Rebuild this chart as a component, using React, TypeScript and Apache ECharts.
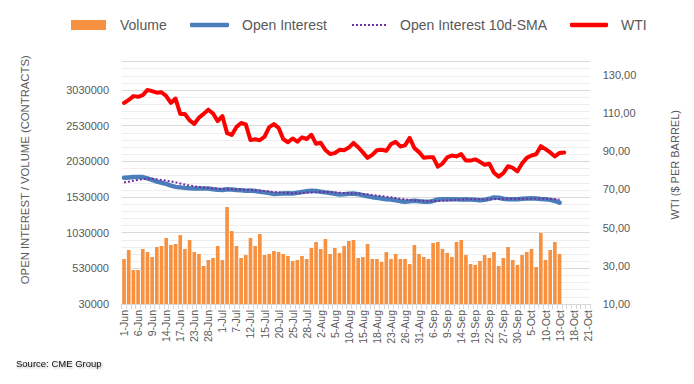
import React, { useEffect, useRef } from "react";
import * as echarts from "echarts";

const categories = [
  "1-Jun","2-Jun","3-Jun","6-Jun","7-Jun","8-Jun","9-Jun","10-Jun","13-Jun","14-Jun","15-Jun","16-Jun","17-Jun","21-Jun","22-Jun","23-Jun","24-Jun","27-Jun","28-Jun","29-Jun","30-Jun",
  "1-Jul","5-Jul","6-Jul","7-Jul","8-Jul","11-Jul","12-Jul","13-Jul","14-Jul","15-Jul","18-Jul","19-Jul","20-Jul","21-Jul","22-Jul","25-Jul","26-Jul","27-Jul","28-Jul","29-Jul",
  "1-Aug","2-Aug","3-Aug","4-Aug","5-Aug","8-Aug","9-Aug","10-Aug","11-Aug","12-Aug","15-Aug","16-Aug","17-Aug","18-Aug","19-Aug","22-Aug","23-Aug","24-Aug","25-Aug","26-Aug","29-Aug","30-Aug","31-Aug",
  "1-Sep","2-Sep","6-Sep","7-Sep","8-Sep","9-Sep","12-Sep","13-Sep","14-Sep","15-Sep","16-Sep","19-Sep","20-Sep","21-Sep","22-Sep","23-Sep","26-Sep","27-Sep","28-Sep","29-Sep","30-Sep",
  "3-Oct","4-Oct","5-Oct","6-Oct","7-Oct","10-Oct","11-Oct","12-Oct","13-Oct","14-Oct","17-Oct","18-Oct","19-Oct","20-Oct","21-Oct",
];

const volume = [
  660000, 787000, 507000, 507000, 801000, 759000, 689000, 829000, 843000, 955000,
  857000, 871000, 997000, 801000, 927000, 759000, 731000, 563000, 647000, 675000,
  843000, 647000, 1390000, 1053000, 843000, 675000, 717000, 955000, 843000, 1011000,
  717000, 731000, 773000, 759000, 731000, 703000, 633000, 647000, 703000, 661000,
  815000, 899000, 801000, 941000, 731000, 815000, 745000, 843000, 913000, 927000,
  675000, 689000, 871000, 661000, 661000, 619000, 759000, 661000, 731000, 661000,
  661000, 591000, 857000, 731000, 689000, 661000, 885000, 899000, 801000, 745000,
  689000, 899000, 927000, 717000, 591000, 577000, 633000, 717000, 675000, 759000,
  563000, 675000, 829000, 647000, 577000, 717000, 759000, 801000, 549000, 1025000,
  647000, 787000, 899000, 731000,
];

const openInterest = [
  1800000, 1805000, 1810000, 1812000, 1810000, 1790000, 1770000, 1745000, 1730000, 1715000,
  1690000, 1672000, 1665000, 1658000, 1652000, 1650000, 1648000, 1650000, 1648000, 1640000,
  1632000, 1628000, 1640000, 1636000, 1628000, 1625000, 1618000, 1620000, 1615000, 1605000,
  1595000, 1585000, 1572000, 1575000, 1580000, 1582000, 1580000, 1590000, 1600000, 1610000,
  1618000, 1615000, 1605000, 1595000, 1585000, 1575000, 1565000, 1568000, 1575000, 1580000,
  1570000, 1555000, 1540000, 1528000, 1520000, 1510000, 1500000, 1495000, 1485000, 1472000,
  1465000, 1470000, 1478000, 1470000, 1465000, 1462000, 1475000, 1495000, 1500000, 1498000,
  1498000, 1498000, 1496000, 1498000, 1495000, 1490000, 1486000, 1492000, 1505000, 1525000,
  1520000, 1505000, 1498000, 1498000, 1500000, 1505000, 1510000, 1512000, 1508000, 1502000,
  1498000, 1490000, 1475000, 1450000,
];

const openInterestSma = [
  1735000, 1745000, 1758000, 1770000, 1782000, 1785000, 1785000, 1778000, 1770000, 1760000,
  1748000, 1735000, 1720000, 1705000, 1692000, 1680000, 1670000, 1662000, 1656000, 1650000,
  1646000, 1642000, 1640000, 1638000, 1636000, 1634000, 1630000, 1627000, 1624000, 1620000,
  1615000, 1608000, 1600000, 1594000, 1590000, 1586000, 1583000, 1583000, 1585000, 1590000,
  1594000, 1598000, 1600000, 1600000, 1598000, 1594000, 1590000, 1586000, 1582000, 1580000,
  1578000, 1574000, 1568000, 1560000, 1552000, 1544000, 1535000, 1526000, 1516000, 1506000,
  1497000, 1490000, 1484000, 1480000, 1476000, 1472000, 1472000, 1474000, 1478000, 1482000,
  1486000, 1490000, 1494000, 1496000, 1498000, 1498000, 1497000, 1496000, 1497000, 1500000,
  1503000, 1504000, 1504000, 1504000, 1504000, 1505000, 1505000, 1506000, 1508000, 1508000,
  1507000, 1504000, 1500000, 1494000,
];

const wti = [
  115.26, 116.87, 118.87, 118.5, 119.41, 122.11, 121.51, 120.67, 120.93, 118.93,
  115.31, 117.59, 109.56, 109.52, 106.19, 104.27, 107.62, 109.57, 111.76, 109.78,
  105.76, 108.43, 99.5, 98.53, 102.73, 104.79, 104.09, 95.84, 96.3, 95.78,
  97.59, 102.6, 104.22, 102.26, 96.35, 94.7, 96.7, 94.98, 97.26, 96.42,
  98.62, 93.89, 94.42, 90.66, 88.54, 89.01, 90.76, 90.5, 91.93, 94.34,
  92.09, 89.41, 86.53, 88.11, 90.5, 90.77, 90.23, 93.74, 94.89, 92.52,
  93.06, 97.01, 91.64, 89.55, 86.61, 86.87, 86.88, 81.94, 83.54, 86.79,
  87.78, 87.31, 88.48, 85.1, 85.11, 85.73, 84.45, 82.94, 83.49, 78.74,
  76.71, 78.5, 82.15, 81.23, 79.49, 83.63, 86.52, 87.76, 88.45, 92.64,
  91.13, 89.35, 87.27, 89.11, 89.4,
];

const leftTicks = [30000, 530000, 1030000, 1530000, 2030000, 2530000, 3030000];
const rightTicks = [10, 30, 50, 70, 90, 110, 130];

const FONT = "'Liberation Sans', Arial, sans-serif";
const GREY = "#595959";

const dotsPath =
  "path://M0,0h2v2h-2zM4,0h2v2h-2zM8,0h2v2h-2zM12,0h2v2h-2zM16,0h2v2h-2zM20,0h2v2h-2zM24,0h2v2h-2zM28,0h2v2h-2zM32,0h2v2h-2z";

export default function App() {
  const ref = useRef<HTMLDivElement>(null);

  useEffect(() => {
    if (!ref.current) return;
    const chart = echarts.init(ref.current, undefined, { renderer: "svg" });

    const legendBase = {
      padding: 0,
      top: 18,
      selectedMode: false,
      itemStyle: { borderWidth: 0 },
    };
    const legendText = (pad: number) => ({
      fontSize: 14,
      color: GREY,
      fontFamily: FONT,
      padding: [0, 0, 0, pad],
    });

    chart.setOption({
      animation: false,
      backgroundColor: "#ffffff",
      textStyle: { fontFamily: FONT },
      grid: { left: 121.7, right: 104, top: 61.5, bottom: 80, containLabel: false },
      legend: [
        { ...legendBase, data: ["Volume"], left: 71, icon: "rect", itemWidth: 35, itemHeight: 10, textStyle: legendText(9) },
        { ...legendBase, data: ["Open Interest"], left: 190, icon: "roundRect", itemWidth: 39, itemHeight: 4.4, textStyle: legendText(8) },
        { ...legendBase, data: ["Open Interest 10d-SMA"], left: 352, icon: dotsPath, itemWidth: 34, itemHeight: 2, textStyle: legendText(9) },
        { ...legendBase, data: ["WTI"], left: 570, icon: "roundRect", itemWidth: 38, itemHeight: 4.4, textStyle: legendText(8) },
      ],
      xAxis: {
        type: "category",
        data: categories,
        boundaryGap: true,
        axisLine: { lineStyle: { color: "#d9d9d9", width: 1 } },
        axisTick: { show: true, interval: 0, length: 5, lineStyle: { color: "#d9d9d9" } },
        axisLabel: { interval: 2, rotate: 90, fontSize: 10.5, color: GREY, margin: 6, fontFamily: FONT },
        splitLine: { show: false },
      },
      yAxis: [
        {
          type: "value",
          min: 30000,
          max: 3430000,
          position: "left",
          splitLine: { show: false },
          axisLine: { show: false },
          axisTick: { show: false },
          axisLabel: {
            customValues: leftTicks,
            fontSize: 11,
            color: GREY,
            margin: 12.7,
            fontFamily: FONT,
            formatter: (v: number) => String(Math.round(v)),
          },
          name: "OPEN INTEREST / VOLUME (CONTRACTS)",
          nameLocation: "middle",
          nameGap: 91,
          nameTextStyle: { fontSize: 11.3, color: GREY, fontFamily: FONT, padding: [0, 0, 0, 26] },
        },
        {
          type: "value",
          min: 10,
          max: 137,
          position: "right",
          splitLine: { show: false },
          axisLine: { show: false },
          axisTick: { show: false },
          axisLabel: {
            customValues: rightTicks,
            fontSize: 11,
            color: GREY,
            margin: 12.7,
            fontFamily: FONT,
            formatter: (v: number) => v.toFixed(2).replace(".", ","),
          },
          name: "WTI ($ PER BARREL)",
          nameLocation: "middle",
          nameGap: 79,
          nameTextStyle: { fontSize: 11, color: GREY, fontFamily: FONT, padding: [0, 0, 0, 36] },
        },
        {
          type: "value",
          min: 0,
          max: 3400000,
          interval: 100000,
          position: "left",
          axisLabel: { show: false },
          axisLine: { show: false },
          axisTick: { show: false },
          splitLine: { show: true, lineStyle: { color: "#eeeeee", width: 1 } },
        },
        {
          type: "value",
          min: 0,
          max: 3400000,
          interval: 500000,
          position: "left",
          axisLabel: { show: false },
          axisLine: { show: false },
          axisTick: { show: false },
          splitLine: { show: true, lineStyle: { color: "#d9d9d9", width: 1 } },
        },
      ],
      series: [
        {
          name: "Volume",
          type: "bar",
          yAxisIndex: 0,
          data: volume,
          barWidth: "78%",
          itemStyle: { color: "#F7913F" },
        },
        {
          name: "Open Interest",
          type: "line",
          yAxisIndex: 0,
          data: openInterest,
          symbol: "none",
          lineStyle: { color: "#4A7EBB", width: 4.5, cap: "round", join: "round" },
          itemStyle: { color: "#4A7EBB" },
        },
        {
          name: "Open Interest 10d-SMA",
          type: "line",
          yAxisIndex: 0,
          data: openInterestSma,
          symbol: "none",
          lineStyle: { color: "#7030A0", width: 2, type: [2, 2] },
          itemStyle: { color: "#7030A0" },
        },
        {
          name: "WTI",
          type: "line",
          yAxisIndex: 1,
          data: wti,
          symbol: "none",
          lineStyle: { color: "#FF0000", width: 4, cap: "round", join: "round" },
          itemStyle: { color: "#FF0000" },
        },
      ],
      graphic: [
        {
          type: "text",
          left: 16,
          top: 358,
          style: {
            text: "Source: CME Group",
            fontSize: 9.5,
            fontFamily: FONT,
            fill: "#111111",
            textShadowColor: "rgba(0,0,0,0.35)",
            textShadowBlur: 2,
            textShadowOffsetX: 1,
            textShadowOffsetY: 1,
          },
        },
      ],
    });

    return () => chart.dispose();
  }, []);

  return (
    <div
      ref={ref}
      style={{ position: "fixed", left: 0, top: 0, width: 694, height: 384, background: "#fff" }}
    />
  );
}
